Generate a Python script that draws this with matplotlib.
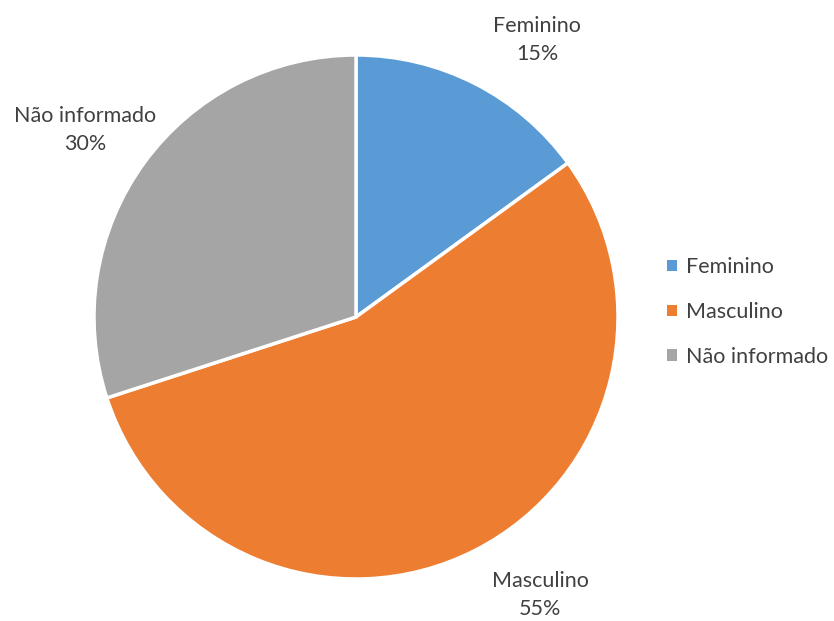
import matplotlib
matplotlib.use("Agg")
import matplotlib.pyplot as plt
from matplotlib.patches import Patch

categories = ["Feminino", "Masculino", "Não informado"]
values = [15, 55, 30]
pct_labels = ["15%", "55%", "30%"]
colors = ["#5B9BD5", "#ED7D31", "#A5A5A5"]

plt.rcParams['font.family'] = ['Lato', 'DejaVu Sans']
text_color = "#404040"
fs = 15.5

fig = plt.figure(figsize=(8.34, 6.21), dpi=100)
W, H = 834, 621
cx, cy, r = 356, 317, 262
ax = fig.add_axes([(cx - r) / W, (H - cy - r) / H, 2 * r / W, 2 * r / H])
wedges, _ = ax.pie(values, colors=colors, startangle=90, counterclock=False,
                   wedgeprops=dict(edgecolor="white", linewidth=2.5))
ax.set_xlim(-1, 1)
ax.set_ylim(-1, 1)
ax.set_aspect('equal')

# label positions (in units of radius)
label_pos = [((537 - cx) / r, (cy - 40) / r),
             ((540 - cx) / r, (cy - 595) / r),
             ((85 - cx) / r, (cy - 130) / r)]
for (x, y), cat, p in zip(label_pos, categories, pct_labels):
    ax.text(x, y, f"{cat}\n{p}", ha="center", va="center", fontsize=fs,
            color=text_color, linespacing=1.45, clip_on=False)

handles = [Patch(facecolor=c, edgecolor='none') for c in colors]
leg = fig.legend(handles, categories, loc="center left", bbox_to_anchor=(667 / W, (H - 312) / H),
                 frameon=False, fontsize=fs, handlelength=0.45, handleheight=0.45,
                 handletextpad=0.45, labelspacing=1.15, labelcolor=text_color,
                 borderpad=0, borderaxespad=0)

fig.savefig("out.png", dpi=100)
